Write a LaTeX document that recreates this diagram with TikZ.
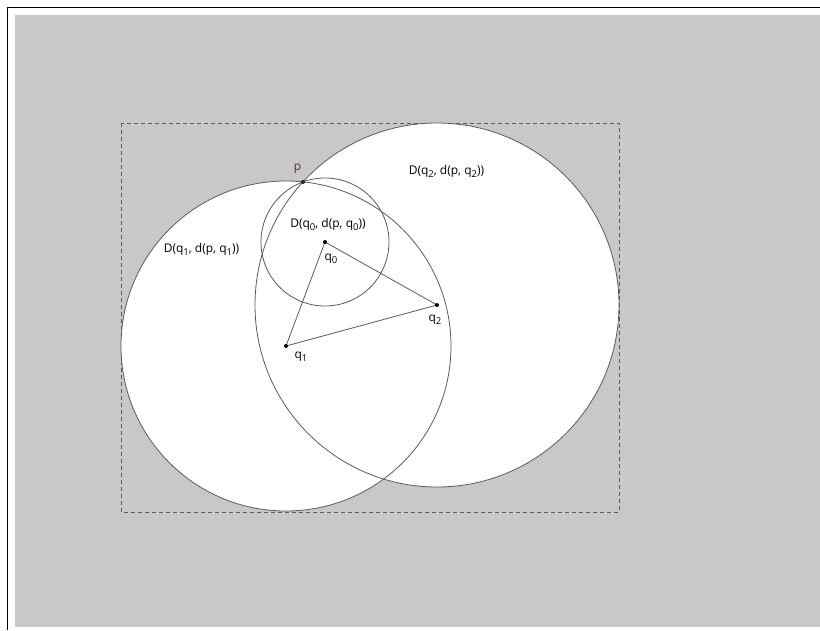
\documentclass[tikz,border=0pt]{standalone}
\usepackage{fontspec}
\setmainfont{Open Sans}
\definecolor{bggray}{RGB}{200,200,200}
\definecolor{linegray}{RGB}{90,90,90}
\definecolor{pred}{RGB}{105,40,40}
\newcommand{\sbs}[1]{\raisebox{-0.5ex}{\fontsize{9.5}{10}\selectfont #1}}
\begin{document}
\begin{tikzpicture}[x=1pt,y=-1pt,
  lbl/.style={anchor=base,inner sep=0pt,font=\fontsize{12}{14}\selectfont},
  circ/.style={draw=linegray,line width=0.8pt},
  seg/.style={draw=linegray,line width=0.8pt},
  dot/.style={circle,fill=black,inner sep=0pt,minimum size=4pt}]
\useasboundingbox (0,0) rectangle (820,630);
\fill[bggray] (15,15) rectangle (820,627);
\draw[black,line width=1.5pt] (7.5,630) -- (7.5,7.5) -- (820,7.5);
\draw[linegray,line width=0.8pt,dash pattern=on 4pt off 3pt] (121,123) rectangle (619,512);
\coordinate (q0) at (325,242);
\coordinate (q1) at (286,346);
\coordinate (q2) at (437,305);
\coordinate (p) at (303,182);
\fill[white] (q1) circle[radius=165];
\fill[white] (q2) circle[radius=182];
\draw[circ] (q1) circle[radius=165];
\draw[circ] (q2) circle[radius=182];
\draw[circ] (q0) circle[radius=64];
\draw[seg] (q0) -- (q1) -- (q2) -- cycle;
\node[dot] at (q0) {};
\node[dot] at (q1) {};
\node[dot] at (q2) {};
\node[dot,fill=pred!60!black] at (p) {};
\node[lbl,text=pred] (lp) at (297.5,170) {p};
\node[lbl] (l0) at (331,260) {q\sbs{0}};
\node[lbl] (l1) at (301,358) {q\sbs{1}};
\node[lbl] (l2) at (435,321) {q\sbs{2}};
\node[lbl] (d0) at (328,227) {D(q\sbs{0}, d(p, q\sbs{0}))};
\node[lbl] (d1) at (201.5,252) {D(q\sbs{1}, d(p, q\sbs{1}))};
\node[lbl] (d2) at (446.5,174) {D(q\sbs{2}, d(p, q\sbs{2}))};
\end{tikzpicture}
\end{document}
